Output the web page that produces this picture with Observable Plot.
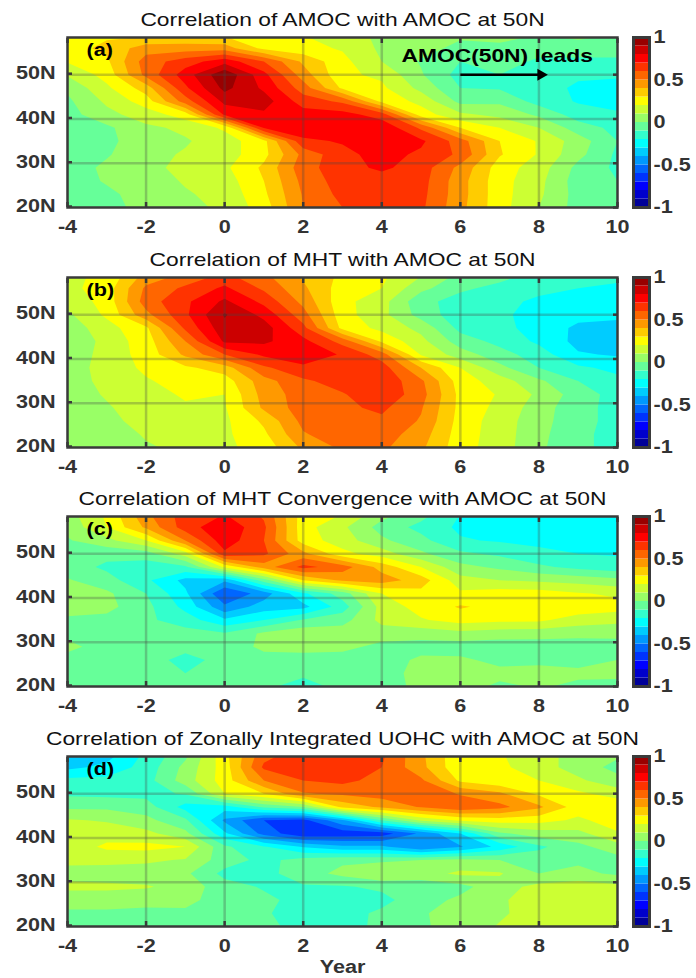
<!DOCTYPE html>
<html>
<head>
<meta charset="utf-8">
<script src="https://cdn.jsdelivr.net/npm/d3@7"></script>
<script src="https://cdn.jsdelivr.net/npm/@observablehq/plot@0.6"></script>
<style>
html,body{margin:0;padding:0;background:#fff}
#page{position:relative;width:696px;height:978px;overflow:hidden;font-family:"Liberation Sans",Arial,sans-serif}
#page svg{position:absolute;overflow:visible;background:transparent}
</style>
</head>
<body>
<div id="page"></div>
<script>
const years = [-4,-3,-2,-1,0,1,2,3,4,5,6,7,8,9,10];
const lats = [20,23,26,29,32,35,38,41,44,47,50,53,56,59];
const levels = [-1,-.9,-.8,-.7,-.6,-.5,-.4,-.3,-.2,-.1,0,.1,.2,.3,.4,.5,.6,.7,.8,.9];
const jet = ["#000099","#0000cc","#0000ff","#0033ff","#0066ff","#0099ff","#00ccff","#00ffff","#33ffcc","#66ff99","#99ff66","#ccff33","#ffff00","#ffcc00","#ff9900","#ff6600","#ff3300","#ff0000","#cc0000","#990000"];
const xTicks = [-4,-2,0,2,4,6,8,10];
const yTicks = [20,30,40,50];
const barTicks = [-1,-.5,0,.5,1];
const titles = ["Correlation of AMOC with AMOC at 50N","Correlation of MHT with AMOC at 50N","Correlation of MHT Convergence with AMOC at 50N","Correlation of Zonally Integrated UOHC with AMOC at 50N"];
const tags = ["(a)","(b)","(c)","(d)"];

// one list per year, south to north along lats
const panelA = [
[-.05,-.05,-.05,-.05,-.05,-.05,-.05,-.04,-.02,.02,.11,.21,.25,.27],
[-.03,-.02,.01,.02,-.01,-.03,-.02,.07,.12,.18,.24,.28,.33,.28],
[.03,.04,.05,.06,.07,.07,.08,.15,.25,.35,.53,.55,.45,.28],
[.07,.09,.11,.14,.11,.09,.12,.25,.55,.68,.75,.65,.45,.3],
[.12,.13,.15,.18,.15,.15,.22,.72,.83,.93,.98,.76,.45,.28],
[.25,.28,.3,.32,.27,.27,.71,.78,.85,.78,.73,.6,.27,.22],
[.5,.51,.53,.56,.53,.68,.76,.75,.65,.55,.45,.38,.23,.2],
[.6,.63,.65,.66,.67,.71,.76,.74,.58,.28,.22,.23,.19,.14],
[.62,.63,.65,.72,.74,.78,.78,.65,.27,.22,.18,.1,.08,.08],
[.62,.63,.64,.65,.68,.72,.58,.25,.17,.07,.01,-.01,.04,.06],
[.43,.44,.44,.47,.58,.55,.3,.12,-.03,-.1,-.14,-.1,-.03,.02],
[.24,.24,.24,.25,.31,.3,.2,.07,-.02,-.11,-.1,-.05,-.02,.03],
[.1,.12,.13,.15,.19,.19,.1,-.02,-.14,-.15,-.16,-.12,-.05,0],
[-.04,-.04,-.05,-.03,.03,.05,-.05,-.15,-.21,-.22,-.18,-.12,-.05,.03],
[-.1,-.09,-.1,-.12,-.12,-.1,-.13,-.18,-.25,-.25,-.18,-.12,-.05,0]
];
const panelB = [
[.04,.04,.05,.05,.05,.05,.05,.03,0,.04,.08,.13,.17,.18],
[.04,.05,.07,.09,.11,.13,.14,.14,.14,.16,.22,.24,.25,.22],
[.09,.11,.14,.15,.17,.19,.22,.24,.25,.28,.47,.55,.52,.43],
[.12,.14,.15,.19,.21,.24,.28,.42,.5,.62,.68,.68,.62,.52],
[.18,.18,.18,.19,.2,.25,.35,.6,.82,.87,.91,.82,.72,.62],
[.24,.28,.32,.42,.44,.46,.58,.72,.82,.85,.77,.67,.58,.52],
[.42,.49,.53,.55,.55,.58,.68,.76,.73,.63,.54,.47,.42,.38],
[.52,.56,.57,.58,.59,.65,.68,.69,.56,.27,.24,.23,.25,.28],
[.52,.55,.58,.62,.68,.68,.65,.55,.28,.17,.13,.14,.2,.22],
[.42,.45,.49,.51,.54,.52,.4,.19,.13,.07,-.04,-.07,.03,.11],
[.24,.25,.26,.27,.27,.25,.2,.05,-.05,-.13,-.16,-.14,-.08,-.02],
[.15,.15,.15,.17,.19,.15,.03,-.06,-.13,-.17,-.18,-.17,-.13,-.06],
[.02,.03,.04,.05,.08,.02,-.1,-.15,-.22,-.24,-.24,-.22,-.17,-.13],
[-.08,-.08,-.07,-.07,-.05,-.1,-.18,-.29,-.33,-.32,-.27,-.24,-.2,-.16],
[-.13,-.13,-.13,-.13,-.14,-.17,-.23,-.31,-.35,-.33,-.28,-.26,-.22,-.17]
];
const panelC = [
[-.05,-.05,-.04,.03,-.03,-.02,.05,.06,.01,-.05,-.05,-.01,.03,.06],
[-.06,-.06,-.06,-.05,-.05,-.03,.03,.02,-.06,-.12,-.07,.07,.2,.22],
[-.05,-.05,-.06,-.05,-.06,-.08,-.07,-.1,-.18,-.15,-.05,.2,.42,.48],
[-.06,-.1,-.13,-.07,-.06,-.15,-.23,-.28,-.33,-.12,.15,.5,.65,.65],
[-.07,-.06,-.07,-.08,-.09,-.28,-.48,-.6,-.38,.22,.68,.76,.78,.7],
[-.08,-.06,-.05,.03,.02,-.2,-.35,-.45,-.05,.45,.62,.6,.62,.58],
[-.14,-.08,-.06,.05,.07,-.09,-.33,-.22,.3,.63,.43,.25,.24,.25],
[-.07,-.05,-.05,.03,.06,-.04,-.15,-.05,.42,.55,.23,.15,.12,.2],
[-.05,-.05,-.05,-.03,.05,.13,.14,.2,.45,.36,.15,.02,-.04,.04],
[.03,.04,.02,-.04,.04,.19,.24,.27,.35,.2,.02,-.07,-.13,-.06],
[.04,.03,.02,-.05,.07,.24,.31,.22,.14,.03,-.08,-.19,-.22,-.2],
[-.02,.03,-.03,-.06,.05,.22,.27,.25,.1,-.02,-.12,-.21,-.23,-.22],
[.01,.03,-.02,-.05,.04,.22,.27,.25,.08,-.08,-.18,-.22,-.25,-.25],
[-.02,.02,-.03,-.05,.03,.15,.27,.21,.06,-.13,-.2,-.26,-.27,-.27],
[-.04,.03,0,-.03,.02,.13,.24,.18,.03,-.16,-.21,-.27,-.28,-.28]
];
const panelD = [
[-.05,-.02,.05,.12,.07,.12,.14,.15,.11,-.02,-.12,-.17,-.33,-.36],
[-.05,-.02,.05,.12,.05,.13,.22,.16,.09,-.02,-.13,-.17,-.27,-.35],
[-.06,-.03,.04,.11,.04,.12,.23,.13,.03,-.05,-.13,-.14,-.16,-.18],
[-.05,-.02,.03,.06,.02,.09,.2,.03,-.08,-.24,-.09,.05,.03,-.03],
[-.04,-.05,-.05,-.06,-.13,-.05,-.08,-.28,-.42,-.25,.2,.25,.25,.27],
[-.07,-.09,-.08,-.11,-.13,-.13,-.19,-.54,-.6,-.08,.3,.5,.62,.56],
[-.14,-.14,-.13,-.11,-.05,-.06,-.31,-.68,-.63,0,.49,.6,.65,.65],
[-.15,-.14,-.13,-.11,.03,-.02,-.38,-.66,-.42,.33,.52,.63,.66,.65],
[-.07,-.08,-.13,-.08,.1,-.02,-.38,-.65,-.1,.42,.55,.56,.6,.62],
[-.01,-.01,-.04,-.06,.06,0,-.5,-.48,.12,.51,.58,.52,.43,.42],
[.03,.04,.02,-.03,.12,.03,-.41,-.3,.22,.58,.49,.28,.22,.22],
[.11,.08,.08,.06,.11,0,-.27,-.02,.25,.53,.42,.22,.22,.21],
[.15,.16,.17,.13,0,-.04,-.12,.05,.24,.42,.28,.2,.15,.12],
[.15,.16,.17,.15,.03,-.02,-.03,.07,.18,.25,.22,.12,.05,.08],
[.13,.15,.15,.13,-.02,-.04,.06,.19,.25,.27,.16,.03,-.03,.02]
];
const panels = [panelA,panelB,panelC,panelD];
const frameTops = [37,277,516,756];
const leadArrow = [{from:6,to:8,tip:8.05,lat:50}];

const dark = "#3a3a3a", ink = "#333";
const page = document.getElementById("page");
const latStep = lats[1]-lats[0];

panels.forEach((cols,k)=>{
  const values = lats.flatMap((_,j)=>cols.map(col=>col[j]));
  const last = k===3;
  const plot = Plot.plot({
    width:696, height:37+170+(last?65:32),
    marginLeft:67, marginRight:79, marginTop:37, marginBottom:last?65:32,
    style:{fontFamily:"'Liberation Sans',Arial,sans-serif",overflow:"visible",background:"transparent"},
    x:{domain:[-4,10]},
    y:{domain:[20,58.4]},
    color:{type:"threshold",domain:levels.slice(1),range:jet},
    marks:[
      Plot.contour(values,{
        width:years.length,height:lats.length,
        x1:years[0]-.5,x2:years[years.length-1]+.5,
        y1:lats[0]-latStep/2,y2:lats[lats.length-1]+latStep/2,
        fill:Plot.identity,thresholds:levels,stroke:"none",clip:true
      }),
      Plot.ruleX(xTicks.slice(1,-1),{stroke:"#444",strokeOpacity:.3,strokeWidth:2.5}),
      Plot.ruleY(yTicks.slice(1),{stroke:"#444",strokeOpacity:.3,strokeWidth:2.5}),
      Plot.axisX(xTicks,{anchor:"bottom",tickSize:-5,tickPadding:18,stroke:dark,strokeWidth:2.5,fill:ink,
        fontSize:18,fontWeight:"bold",tickFormat:d=>String(d),
        label:last?"Year":null,labelAnchor:"center",labelArrow:"none",labelOffset:46}),
      Plot.axisX(xTicks,{anchor:"top",tickSize:-5,stroke:dark,strokeWidth:2.5,tickFormat:()=>"",label:null}),
      Plot.axisY(yTicks,{anchor:"left",tickSize:-5,tickPadding:17,dy:-1,stroke:dark,strokeWidth:2.5,fill:ink,
        fontSize:18,fontWeight:"bold",tickFormat:d=>d+"N",label:null}),
      Plot.axisY(yTicks,{anchor:"right",tickSize:-5,stroke:dark,strokeWidth:2.5,tickFormat:()=>"",label:null}),
      Plot.frame({stroke:dark,strokeWidth:2.5}),
      Plot.text([titles[k]],{frameAnchor:"top",dy:-25,fontSize:19,fill:"#111"}),
      Plot.text([tags[k]],{frameAnchor:"top-left",dx:19,dy:6,fontSize:18,fontWeight:"bold",fill:"#000"}),
      ...(k===0?[
        Plot.text(["AMOC(50N) leads"],{frameAnchor:"top-left",dx:334,dy:11,fontSize:19,fontWeight:"bold",fill:"#000",textAnchor:"start"}),
        Plot.link(leadArrow,{x1:"from",x2:"to",y1:"lat",y2:"lat",stroke:"#000",strokeWidth:2.5}),
        Plot.dot(leadArrow,{x:"tip",y:"lat",symbol:"triangle",rotate:90,r:4.5,fill:"#000"})
      ]:[])
    ]
  });
  plot.style.left="0px"; plot.style.top=(frameTops[k]-37)+"px";
  page.appendChild(plot);

  const bar = Plot.plot({
    width:76,height:37+170+32,
    marginLeft:13,marginRight:47,marginTop:37,marginBottom:32,
    style:{fontFamily:"'Liberation Sans',Arial,sans-serif",overflow:"visible",background:"transparent"},
    y:{domain:[-1,1]},
    color:{type:"threshold",domain:levels.slice(1),range:jet},
    marks:[
      Plot.rect(levels,{y1:d=>d,y2:d=>d+.1,fill:d=>d}),
      Plot.axisY(barTicks,{anchor:"right",tickSize:-2,tickPadding:6,stroke:dark,strokeWidth:1.5,fill:ink,
        fontSize:18,fontWeight:"bold",tickFormat:d=>String(d),label:null}),
      Plot.frame({stroke:dark,strokeWidth:3})
    ]
  });
  bar.style.left="620px"; bar.style.top=(frameTops[k]-37)+"px";
  page.appendChild(bar);
});

// the reference's lettering is drawn about 1.2 times wider than it is tall
page.querySelectorAll("svg text").forEach(t=>{
  const w = t.getComputedTextLength();
  if (w>0){ t.setAttribute("textLength",w*1.2); t.setAttribute("lengthAdjust","spacingAndGlyphs"); }
});
</script>
</body>
</html>
